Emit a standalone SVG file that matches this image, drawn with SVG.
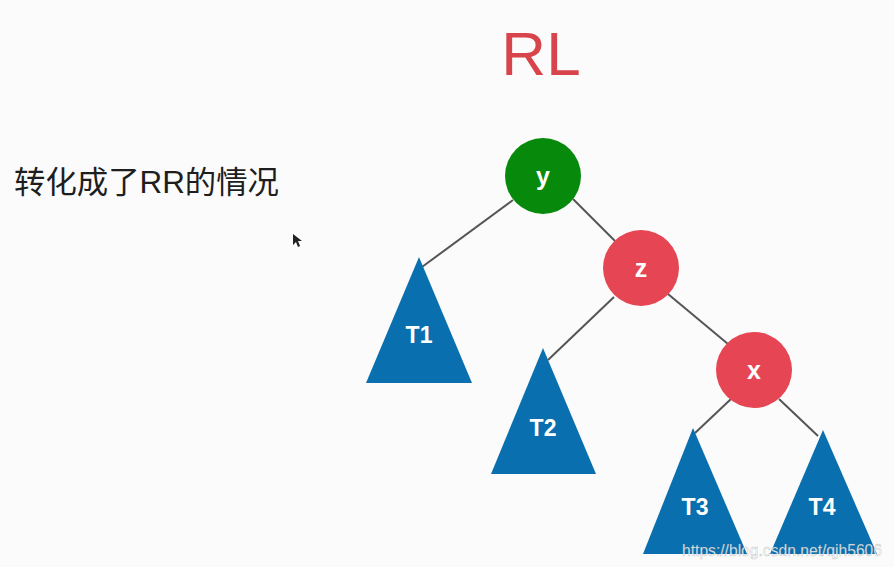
<svg xmlns="http://www.w3.org/2000/svg" width="894" height="567" viewBox="0 0 894 567">
<style>
.edge{stroke:#555;stroke-width:2;fill:none}
.lbl{font-family:"Liberation Sans",Arial,sans-serif;font-weight:bold;fill:#fff;text-anchor:middle}
.tri{fill:#0a6fae}
.red{fill:#e64553}
</style>
<rect width="894" height="567" fill="#fbfbfb"/>
<text x="541" y="75" font-family="'Liberation Sans',Arial,sans-serif" font-size="62" fill="#d8444b" text-anchor="middle">RL</text>
<text x="14" y="193" font-family="'Liberation Sans','Noto Sans CJK SC',sans-serif" font-size="31" fill="#1e1e1e" textLength="265" lengthAdjust="spacingAndGlyphs">转化成了RR的情况</text>
<g id="connectors">
<line class="edge" x1="513" y1="200" x2="422" y2="267"/>
<line class="edge" x1="573" y1="199" x2="615" y2="241"/>
<line class="edge" x1="614" y1="297" x2="548" y2="360"/>
<line class="edge" x1="668" y1="294" x2="728" y2="344"/>
<line class="edge" x1="731" y1="399" x2="695" y2="433"/>
<line class="edge" x1="779" y1="399" x2="818" y2="436"/>
</g>
<g id="node-y"><circle cx="543" cy="176" r="38" fill="#078a0c"/><text class="lbl" x="543" y="185" font-size="25">y</text></g>
<g id="node-z"><circle cx="641" cy="268" r="38" class="red"/><text class="lbl" x="641" y="277" font-size="25">z</text></g>
<g id="node-x"><circle cx="754" cy="370" r="38" class="red"/><text class="lbl" x="754" y="379" font-size="25">x</text></g>
<g id="node-T1"><polygon class="tri" points="419,257 472,383 366,383"/><text class="lbl" x="419" y="343" font-size="23">T1</text></g>
<g id="node-T2"><polygon class="tri" points="543,348 596,474 491,474"/><text class="lbl" x="543" y="436" font-size="23">T2</text></g>
<g id="node-T3"><polygon class="tri" points="693,428 747,554 643,554"/><text class="lbl" x="695" y="515" font-size="23">T3</text></g>
<g id="node-T4"><polygon class="tri" points="823,430 877,554 770,554"/><text class="lbl" x="822" y="515" font-size="23">T4</text></g>
<polygon points="293,234 293,245 296,242 298,247 300,246 298,241 302,241" fill="#222"/>
<text x="682" y="556" font-family="'Liberation Sans',Arial,sans-serif" font-size="16" fill="#fff" fill-opacity="0.85" stroke="#888" stroke-width="0.4" stroke-opacity="0.6" textLength="200" lengthAdjust="spacingAndGlyphs">https://blog.csdn.net/qjh5606</text>
</svg>
